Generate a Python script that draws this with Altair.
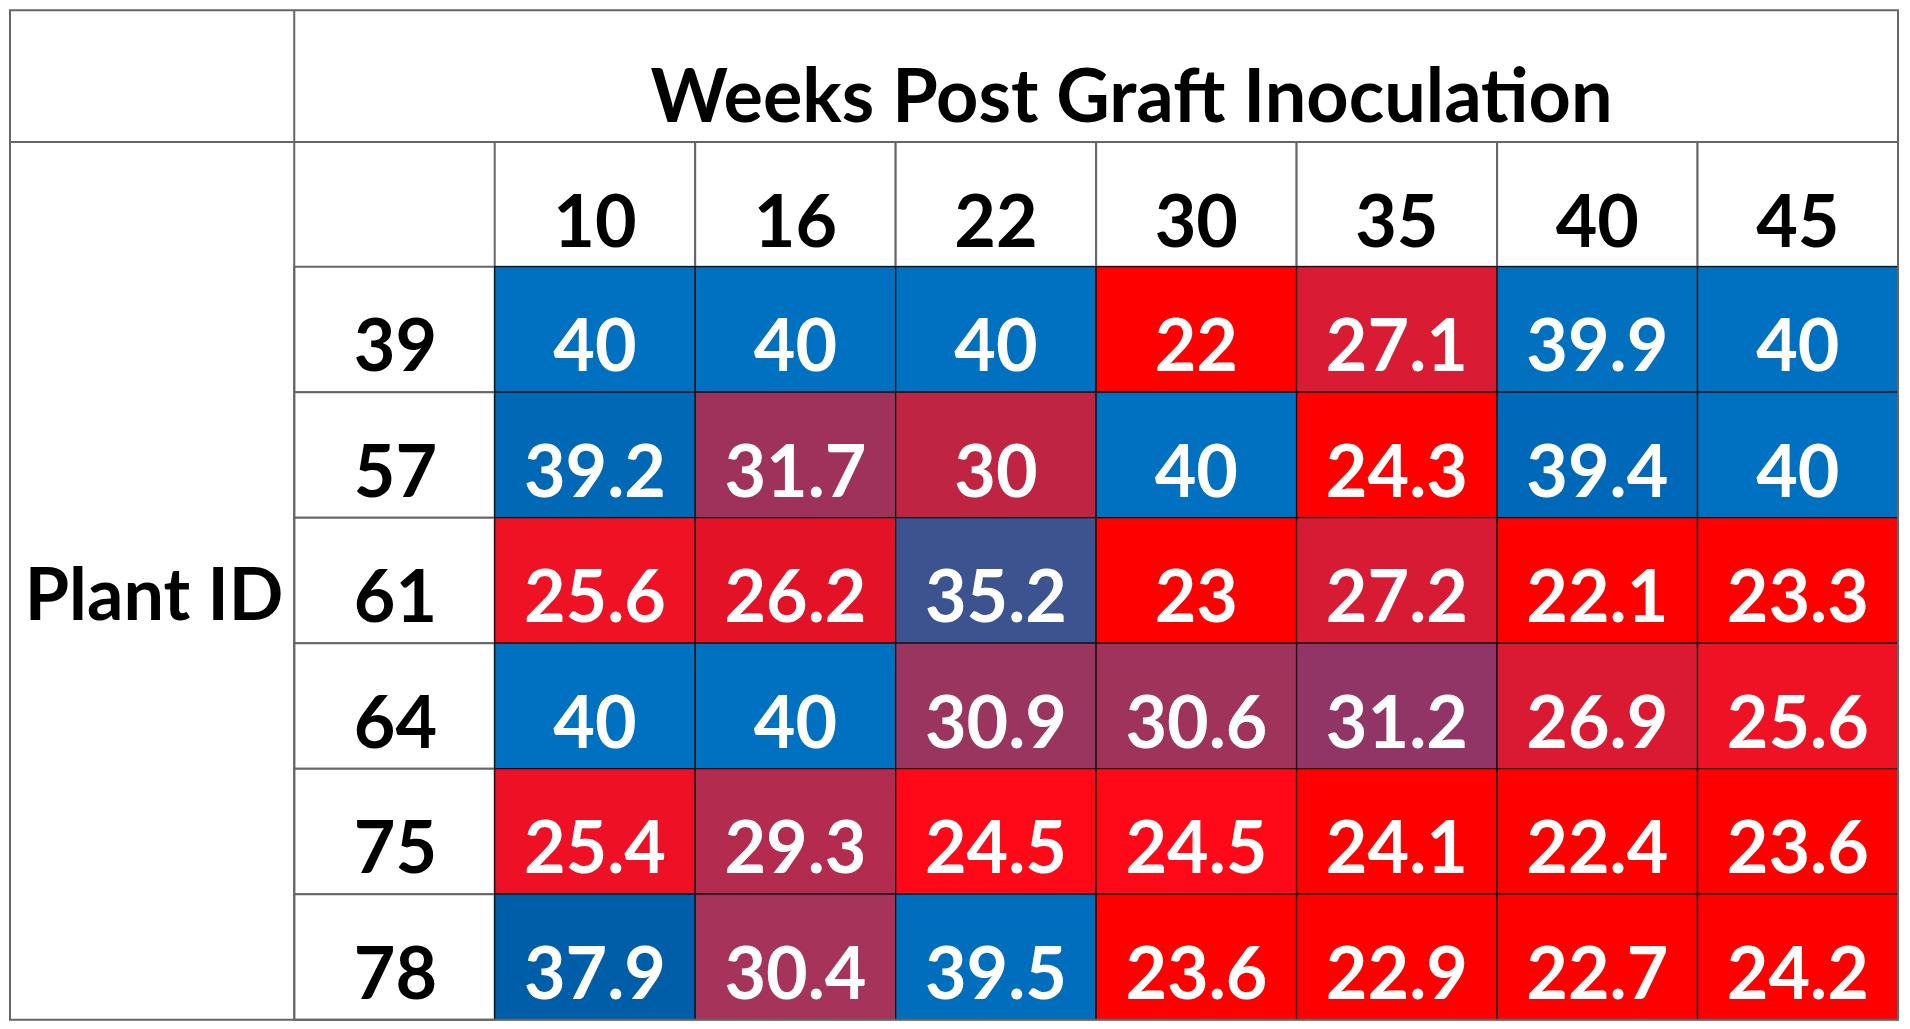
import altair as alt
import pandas as pd

weeks = ["10", "16", "22", "30", "35", "40", "45"]
plants = ["39", "57", "61", "64", "75", "78"]
p39 = [40, 40, 40, 22, 27.1, 39.9, 40]
p57 = [39.2, 31.7, 30, 40, 24.3, 39.4, 40]
p61 = [25.6, 26.2, 35.2, 23, 27.2, 22.1, 23.3]
p64 = [40, 40, 30.9, 30.6, 31.2, 26.9, 25.6]
p75 = [25.4, 29.3, 24.5, 24.5, 24.1, 22.4, 23.6]
p78 = [37.9, 30.4, 39.5, 23.6, 22.9, 22.7, 24.2]
rows = [p39, p57, p61, p64, p75, p78]

color_domain = [22, 24.3, 24.5, 25.4, 25.6, 26.2, 26.9, 27.2, 29.3, 30, 30.4, 30.6,
                30.9, 31.2, 31.7, 35.2, 37.9, 39.2, 39.4, 39.5, 40]
color_range = ["#FF0000", "#FF0000", "#FF0818", "#EE1025", "#EF1124", "#E41226", "#DA1A33",
               "#D81B35", "#B42B50", "#C02443", "#A6345A", "#A0335A", "#9A3560", "#913566",
               "#9E325A", "#3C5390", "#005EA8", "#0068B5", "#0068B8", "#006EBD", "#0070C0"]

records = []
for plant, vals in zip(plants, rows):
    for wk, v in zip(weeks, vals):
        records.append({"Plant": plant, "Week": wk, "Value": v, "Label": f"{v:g}"})
df = pd.DataFrame(records)
wk_df = pd.DataFrame({"Week": weeks})
pl_df = pd.DataFrame({"Plant": plants})
one = pd.DataFrame({"k": [0]})

W, H = 1407, 755
FONT = "Lato"
FS = 72
GRAY = "#666666"

x_enc = alt.X(
    "Week:O", sort=weeks,
    scale=alt.Scale(paddingInner=0, paddingOuter=0),
    axis=alt.Axis(
        orient="top", labelAngle=0, labelPadding=20, labelBaseline="alphabetic",
        title="Weeks Post Graft Inoculation", titleX=638, titleY=-146,
        titleAlign="center", titleBaseline="alphabetic", titleAngle=0,
        titleFontSize=74,
    ),
)
y_enc = alt.Y(
    "Plant:O", sort=plants,
    scale=alt.Scale(paddingInner=0, paddingOuter=0),
    axis=alt.Axis(
        orient="left", labelAlign="center", labelPadding=100, labelBaseline="alphabetic",
        labelOffset=42, title="Plant ID", titleAngle=0, titleX=-342, titleY=354,
        titleAlign="center", titleBaseline="alphabetic",
    ),
)

header_cells = alt.Chart(wk_df).mark_rect(fill="white", stroke=GRAY, strokeWidth=2).encode(
    x=x_enc, y=alt.value(-125), y2=alt.value(0)
)
id_cells = alt.Chart(pl_df).mark_rect(fill="white", stroke=GRAY, strokeWidth=2).encode(
    y=y_enc, x=alt.value(-201), x2=alt.value(0)
)
cells = alt.Chart(df).mark_rect(stroke="#111111", strokeWidth=1.3).encode(
    x=x_enc, y=y_enc,
    color=alt.Color("Value:Q", scale=alt.Scale(domain=color_domain, range=color_range,
                                               interpolate="rgb"), legend=None),
)
texts = alt.Chart(df).mark_text(
    font=FONT, fontSize=FS, fontWeight="bold", color="white", baseline="alphabetic", dy=42
).encode(x=x_enc, y=y_enc, text="Label:N")

vline = alt.Chart(one).mark_rule(color=GRAY, strokeWidth=2).encode(
    x=alt.value(-201), y=alt.value(-257), y2=alt.value(H)
)
hline = alt.Chart(one).mark_rule(color=GRAY, strokeWidth=2).encode(
    x=alt.value(-486), x2=alt.value(W), y=alt.value(-125)
)
frame = alt.Chart(one).mark_rect(fill="white", fillOpacity=0, stroke=GRAY, strokeWidth=2).encode(
    x=alt.value(-486), x2=alt.value(W), y=alt.value(-257), y2=alt.value(H)
)

chart = alt.layer(header_cells, id_cells, cells, texts, vline, hline, frame).properties(
    width=W, height=H,
    padding={"left": 488, "top": 258, "right": 4, "bottom": 4},
    autosize=alt.AutoSizeParams(type="none"),
    background="white",
).configure_view(stroke=None).configure_axis(
    domain=False, ticks=False, tickSize=0, grid=False,
    labelFont=FONT, labelFontSize=FS, labelFontWeight="bold", labelColor="black",
    titleFont=FONT, titleFontSize=FS, titleFontWeight="bold", titleColor="black",
    labelLimit=400, titleLimit=1400,
)

chart.save("out.html", embed_options={"renderer": "svg", "actions": False})
